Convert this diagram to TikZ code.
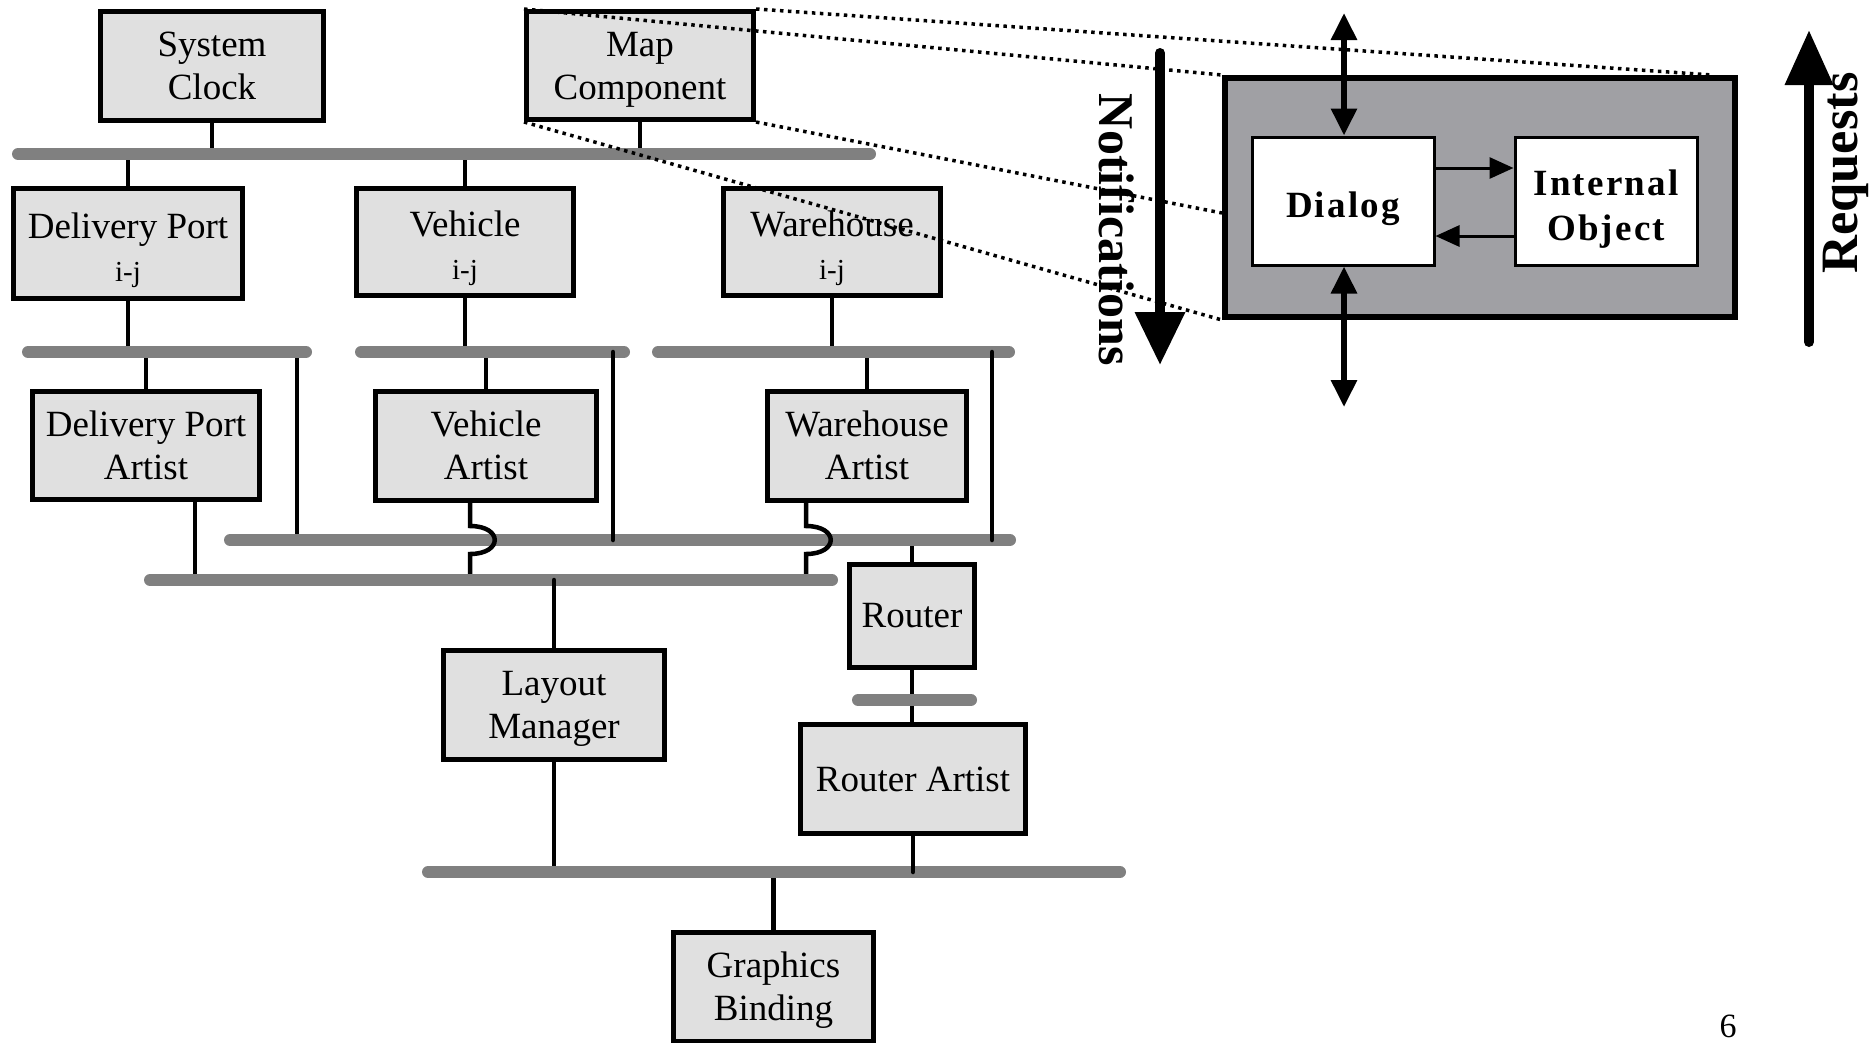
\documentclass[tikz,border=0pt]{standalone}
\usepackage{fontspec}
\setmainfont{Liberation Serif}
\newfontfamily\spacedserif{Liberation Serif}[LetterSpace=6]
\usetikzlibrary{arrows.meta}
\definecolor{boxfill}{HTML}{E0E0E0}
\definecolor{busgray}{HTML}{808080}
\definecolor{objgray}{HTML}{A0A0A4}
% invisible rules that fix the height of first and last text lines in a box
\newcommand\fstln[1]{\rule{0pt}{#1}}
\newcommand\lstln[1]{\rule[-#1]{0pt}{0pt}}

\begin{document}
\begin{tikzpicture}[x=1pt,y=-1pt,
  comp/.style={draw, line width=5pt, fill=boxfill, inner sep=0pt, align=center,
    font=\fontsize{37}{43}\selectfont},
  inner/.style={draw, line width=3pt, fill=white, inner sep=0pt, align=center,
    minimum width=182pt, minimum height=128pt,
    font=\spacedserif\bfseries\fontsize{37}{45}\selectfont},
  bus/.style={line width=12pt, busgray, line cap=round},
  stem/.style={line width=4.5pt},
  stemr/.style={line width=4.5pt, line cap=round},
  zoomline/.style={line width=3.5pt, dash pattern=on 3.5pt off 4.5pt},
  bigarrow/.style={line width=10pt, line cap=round},
  dbl/.style={line width=6pt, {Triangle[length=27pt,width=25pt]}-{Triangle[length=27pt,width=25pt]}},
  msg/.style={line width=3pt, -{Triangle[length=24pt,width=21pt]}},
  vlabel/.style={font=\bfseries\fontsize{50}{60}\selectfont, inner sep=0pt}
]
\useasboundingbox (0,0) rectangle (1875,1042);
\clip (0,0) rectangle (1875,1042);

% bus end points
\coordinate (b1l) at (18,154);   \coordinate (b1r) at (870,154);
\coordinate (b2al) at (28,352);  \coordinate (b2ar) at (306,352);
\coordinate (b2bl) at (361,352); \coordinate (b2br) at (624,352);
\coordinate (b2cl) at (658,352); \coordinate (b2cr) at (1009,352);
\coordinate (b3l) at (230,540);  \coordinate (b3r) at (1010,540);
\coordinate (b4l) at (150,580);  \coordinate (b4r) at (832,580);
\coordinate (b5l) at (858,700);  \coordinate (b5r) at (971,700);
\coordinate (b6l) at (428,872);  \coordinate (b6r) at (1120,872);

% components
\node[comp, minimum width=223pt, minimum height=109pt] (clock) at (212,66)
  {\fstln{36pt}System\\Clock\lstln{12pt}};
\node[comp, minimum width=227pt, minimum height=108pt] (map) at (640,65.5)
  {\fstln{36pt}Map\\Component\lstln{12pt}};
\node[comp, minimum width=229pt, minimum height=110pt] (dpij) at (128,243.5)
  {\fstln{42pt}Delivery Port\\{\fontsize{29}{34}\selectfont i-j\lstln{10pt}}};
\node[comp, minimum width=217pt, minimum height=107pt] (vij) at (465,242)
  {\fstln{42pt}Vehicle\\{\fontsize{29}{34}\selectfont i-j\lstln{10pt}}};
\node[comp, minimum width=217pt, minimum height=107pt] (wij) at (832,242)
  {\fstln{42pt}Warehouse\\{\fontsize{29}{34}\selectfont i-j\lstln{10pt}}};
\node[comp, minimum width=227pt, minimum height=108pt] (dpart) at (146,445.5)
  {\fstln{36pt}Delivery Port\\Artist\lstln{12pt}};
\node[comp, minimum width=221pt, minimum height=109pt] (vart) at (486,446)
  {\fstln{36pt}Vehicle\\Artist\lstln{12pt}};
\node[comp, minimum width=199pt, minimum height=109pt] (wart) at (867,446)
  {\fstln{36pt}Warehouse\\Artist\lstln{12pt}};
\node[comp, minimum width=125pt, minimum height=103pt] (router) at (912,616) {Router};
\node[comp, minimum width=221pt, minimum height=109pt] (layout) at (554,705)
  {\fstln{36pt}Layout\\Manager\lstln{12pt}};
\node[comp, minimum width=225pt, minimum height=109pt] (rart) at (913,779) {Router Artist};
\node[comp, minimum width=200pt, minimum height=109pt] (gb) at (773.5,987)
  {\fstln{36pt}Graphics\\Binding\lstln{12pt}};

% attachment points that sit off the box centres
\coordinate (d2a) at (297,352);
\coordinate (d2b) at (613,352);
\coordinate (d2c) at (992,352);
\coordinate (dpa) at ([xshift=49pt]dpart.south);
\coordinate (vh) at ([xshift=-16pt]vart.south);
\coordinate (wh) at ([xshift=-61pt]wart.south);

% stems that stop at a bus edge
\draw[stem] (clock.south) -- (clock.south |- b1l);
\draw[stem] (map.south) -- (map.south |- b1l);
\draw[stem] (dpij.north) -- (dpij.north |- b1l);
\draw[stem] (vij.north) -- (vij.north |- b1l);
\draw[stem] (dpij.south) -- (dpij.south |- b2al);
\draw[stem] (vij.south) -- (vij.south |- b2bl);
\draw[stem] (wij.south) -- (wij.south |- b2cl);
\draw[stem] (dpart.north) -- (dpart.north |- b2al);
\draw[stem] (vart.north) -- (vart.north |- b2bl);
\draw[stem] (wart.north) -- (wart.north |- b2cl);
\draw[stem] (d2a) -- (d2a |- b3l);
\draw[stem] (dpa) -- (dpa |- b4l);
\draw[stem] (router.north) -- (router.north |- b3l);
\draw[stem] (router.south) -- (router.south |- rart.north);
\draw[stem] (layout.south) -- (layout.south |- b6l);
\draw[stem] (gb.north) -- (gb.north |- b6l);

% buses
\draw[bus] (b1l) -- (b1r);
\draw[bus] (b2al) -- (b2ar);
\draw[bus] (b2bl) -- (b2br);
\draw[bus] (b2cl) -- (b2cr);
\draw[bus] (b3l) -- (b3r);
% artist links hopping over the upper bus
\draw[stem] (vh) -- ++(0,23) .. controls +(33,0) and +(33,0) .. ++(0,28) -- (vh |- b4l);
\draw[stem] (wh) -- ++(0,23) .. controls +(33,0) and +(33,0) .. ++(0,28) -- (wh |- b4l);
\draw[bus] (b4l) -- (b4r);
\draw[bus] (b5l) -- (b5r);
\draw[bus] (b6l) -- (b6r);

% stems drawn over the bus
\draw[stemr] (d2b) -- (d2b |- b3l);
\draw[stemr] (d2c) -- (d2c |- b3l);
\draw[stemr] (layout.north) -- (layout.north |- b4l);
\draw[stemr] (rart.south) -- (rart.south |- b6l);

% component internals
\node[draw, line width=6pt, fill=objgray, inner sep=0pt,
      minimum width=510pt, minimum height=239pt] (obj) at (1480,197.5) {};
\node[inner] (dialog) at (1343,201) {\fstln{42pt}Dialog};
\node[inner] (internal) at (1606,201) {\fstln{46pt}Internal\\Object\lstln{12pt}};
\draw[msg] ([yshift=33pt]dialog.east) -- ([yshift=33pt]internal.west);
\draw[msg] ([yshift=-35pt]internal.west) -- ([yshift=-35pt]dialog.east);

\coordinate (dtop) at (1344,13);
\coordinate (dbot) at (1344,407);
\draw[dbl] (dtop) -- (dtop |- dialog.north);
\draw[dbl] (dbot |- dialog.south) -- (dbot);

% notification and request flow
\coordinate (nt) at (1160,53);
\coordinate (nb) at (1160,365);
\draw[bigarrow, -{Triangle[length=53pt,width=48pt]}] (nt) -- (nb);
\node[vlabel, rotate=-90] (notif) at (1116.5,230) {Notifications};

\coordinate (rb) at (1809,342);
\coordinate (rt) at (1809,30);
\draw[bigarrow, -{Triangle[length=55pt,width=46pt]}] (rb) -- (rt);
\node[vlabel, rotate=90, font=\bfseries\fontsize{52.5}{60}\selectfont] (req) at (1846,173) {Requests};

% zoom lines from the map component
\draw[zoomline] (map.north east) -- ([xshift=-26pt]obj.north east);
\draw[zoomline] (map.north west) -- (obj.north west);
\draw[zoomline] (map.south east) -- ([yshift=-15.5pt]obj.west);
\draw[zoomline] (map.south west) -- (obj.south west);

\node[font=\fontsize{34}{40}\selectfont, inner sep=0pt] (pg) at (1728,1026) {6};
\end{tikzpicture}
\end{document}
